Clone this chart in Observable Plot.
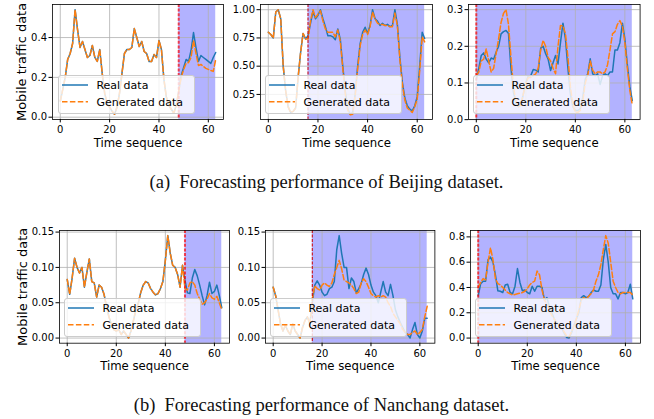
<!DOCTYPE html>
<html><head><meta charset="utf-8">
<script src="https://cdn.jsdelivr.net/npm/d3@7"></script>
<script src="https://cdn.jsdelivr.net/npm/@observablehq/plot@0.6"></script>
<style>
body{margin:0;background:#fff}
#fig{position:relative;width:654px;height:419px;overflow:hidden;background:#fff}
.panel{position:absolute}
.legend{position:absolute;background:rgba(255,255,255,0.8);border:1px solid #cccccc;border-radius:3px;box-sizing:border-box}
.caption{position:absolute;font-family:"Liberation Serif";font-size:18.5px;line-height:1;white-space:pre;transform:translate(-50%,-50%);color:#111}
</style></head><body><div id="fig"></div>
<script>
// ---- data ----
const xTicks = [0, 20, 40, 60];
const xTickLabels = ["0", "20", "40", "60"];

const bj1Real = [0.08,0.14,0.20,0.29,0.32,0.37,0.54,0.44,0.35,0.38,0.34,0.30,0.31,0.36,0.30,0.28,0.34,0.22,0.12,0.07,0.05,0.03,0.015,0.05,0.12,0.22,0.32,0.34,0.34,0.35,0.445,0.40,0.355,0.38,0.33,0.32,0.28,0.28,0.315,0.30,0.385,0.34,0.19,0.10,0.06,0.04,0.02,0.06,0.13,0.21,0.25,0.29,0.28,0.335,0.425,0.35,0.28,0.31,0.30,0.29,0.28,0.27,0.30,0.325];
const bj1Gen  = [0.08,0.14,0.20,0.29,0.32,0.37,0.54,0.44,0.35,0.38,0.34,0.30,0.31,0.36,0.30,0.28,0.34,0.22,0.12,0.07,0.05,0.03,0.015,0.05,0.12,0.22,0.32,0.34,0.34,0.35,0.445,0.40,0.355,0.38,0.33,0.32,0.28,0.28,0.315,0.30,0.385,0.34,0.19,0.10,0.06,0.04,0.02,0.06,0.13,0.20,0.24,0.27,0.275,0.30,0.385,0.32,0.26,0.265,0.255,0.245,0.24,0.235,0.23,0.29];
const bj2Real = [0.80,0.78,0.75,0.98,1.00,0.92,0.50,0.28,0.14,0.09,0.10,0.13,0.40,0.62,0.79,0.74,0.77,0.88,0.985,0.92,0.95,1.00,0.92,0.85,0.77,0.77,0.76,0.735,0.83,0.74,0.50,0.28,0.12,0.075,0.09,0.25,0.50,0.70,0.80,0.845,0.79,0.86,1.00,0.92,0.90,0.86,0.88,0.86,0.87,0.85,0.86,1.00,0.87,0.58,0.36,0.22,0.15,0.12,0.105,0.15,0.23,0.50,0.80,0.745];
const bj2Gen  = [0.80,0.78,0.75,0.98,1.00,0.92,0.50,0.28,0.14,0.09,0.10,0.13,0.40,0.62,0.79,0.74,0.74,0.90,1.00,0.93,0.96,0.99,0.90,0.83,0.80,0.80,0.80,0.76,0.82,0.72,0.48,0.26,0.11,0.07,0.075,0.24,0.48,0.68,0.78,0.82,0.78,0.85,0.98,0.92,0.88,0.87,0.87,0.86,0.86,0.85,0.85,0.97,0.86,0.56,0.34,0.20,0.13,0.11,0.09,0.14,0.21,0.46,0.76,0.715];
const bj3Real = [0.109,0.14,0.175,0.182,0.165,0.155,0.168,0.165,0.184,0.20,0.234,0.24,0.243,0.235,0.14,0.075,0.045,0.035,0.04,0.07,0.10,0.12,0.12,0.137,0.135,0.13,0.195,0.20,0.18,0.165,0.134,0.155,0.175,0.152,0.21,0.263,0.22,0.14,0.07,0.035,0.025,0.025,0.03,0.06,0.11,0.125,0.166,0.125,0.12,0.125,0.096,0.12,0.125,0.12,0.13,0.13,0.19,0.19,0.21,0.263,0.22,0.15,0.09,0.052];
const bj3Gen  = [0.12,0.13,0.16,0.165,0.193,0.16,0.13,0.14,0.18,0.22,0.265,0.29,0.30,0.26,0.17,0.09,0.05,0.035,0.04,0.07,0.10,0.115,0.115,0.12,0.125,0.14,0.19,0.216,0.20,0.17,0.16,0.14,0.125,0.20,0.257,0.255,0.235,0.17,0.09,0.04,0.02,0.02,0.025,0.05,0.10,0.12,0.16,0.135,0.125,0.13,0.13,0.125,0.13,0.15,0.19,0.234,0.24,0.26,0.27,0.255,0.21,0.14,0.08,0.04];
const nc1Real = [0.083,0.062,0.085,0.113,0.10,0.092,0.10,0.072,0.093,0.112,0.08,0.078,0.058,0.075,0.072,0.062,0.045,0.03,0.02,0.012,0.01,0.012,0.005,0.01,0.005,0.0,0.01,0.025,0.04,0.05,0.065,0.075,0.08,0.078,0.07,0.065,0.061,0.063,0.07,0.08,0.11,0.145,0.12,0.103,0.10,0.09,0.072,0.103,0.082,0.064,0.063,0.085,0.097,0.088,0.075,0.06,0.047,0.06,0.079,0.063,0.066,0.075,0.06,0.043];
const nc1Gen  = [0.083,0.062,0.085,0.113,0.10,0.092,0.10,0.072,0.093,0.112,0.08,0.078,0.058,0.075,0.072,0.062,0.045,0.03,0.02,0.012,0.01,0.012,0.005,0.01,0.005,0.0,0.01,0.025,0.04,0.05,0.065,0.075,0.08,0.078,0.07,0.065,0.061,0.063,0.07,0.08,0.11,0.145,0.12,0.103,0.10,0.09,0.072,0.103,0.07,0.068,0.078,0.08,0.075,0.063,0.055,0.048,0.05,0.055,0.063,0.057,0.055,0.059,0.05,0.04];
const nc2Real = [0.072,0.06,0.04,0.02,0.01,0.018,0.01,0.005,0.02,0.01,0.005,0.0,0.015,0.025,0.03,0.02,0.05,0.075,0.081,0.075,0.065,0.06,0.062,0.07,0.072,0.08,0.125,0.145,0.12,0.10,0.10,0.07,0.085,0.08,0.064,0.07,0.077,0.09,0.099,0.09,0.075,0.065,0.06,0.05,0.065,0.08,0.065,0.06,0.076,0.06,0.04,0.03,0.022,0.015,0.008,0.005,0.0,0.012,0.022,0.005,0.0,0.01,0.028,0.028];
const nc2Gen  = [0.072,0.06,0.04,0.02,0.01,0.018,0.01,0.005,0.02,0.01,0.005,0.0,0.015,0.025,0.03,0.02,0.055,0.074,0.07,0.068,0.075,0.078,0.075,0.073,0.078,0.09,0.10,0.11,0.098,0.082,0.08,0.078,0.075,0.07,0.063,0.065,0.078,0.084,0.08,0.072,0.063,0.06,0.058,0.06,0.058,0.06,0.058,0.05,0.045,0.035,0.03,0.025,0.02,0.012,0.008,0.005,0.005,0.008,0.01,0.005,0.008,0.012,0.03,0.045];
const nc3Real = [0.335,0.43,0.45,0.45,0.62,0.64,0.60,0.50,0.374,0.37,0.36,0.42,0.426,0.36,0.35,0.41,0.55,0.44,0.374,0.38,0.36,0.35,0.41,0.37,0.41,0.41,0.40,0.30,0.32,0.25,0.20,0.15,0.12,0.10,0.08,0.04,0.005,0.0,0.04,0.10,0.15,0.20,0.32,0.335,0.32,0.33,0.36,0.38,0.37,0.37,0.42,0.62,0.74,0.60,0.40,0.35,0.35,0.31,0.36,0.36,0.35,0.36,0.426,0.31];
const nc3Gen  = [0.40,0.44,0.47,0.46,0.60,0.714,0.62,0.47,0.43,0.42,0.40,0.38,0.36,0.35,0.34,0.345,0.35,0.355,0.36,0.37,0.39,0.42,0.44,0.45,0.53,0.50,0.38,0.30,0.27,0.22,0.18,0.15,0.12,0.10,0.08,0.05,0.02,0.01,0.05,0.10,0.15,0.22,0.30,0.32,0.31,0.33,0.35,0.38,0.45,0.50,0.58,0.70,0.81,0.75,0.60,0.45,0.40,0.36,0.35,0.36,0.36,0.36,0.36,0.34];

const bj1YTicks = [0, 0.2, 0.4],            bj1YLabels = ["0.0", "0.2", "0.4"];
const bj2YTicks = [0.25, 0.5, 0.75, 1.0],   bj2YLabels = ["0.25", "0.50", "0.75", "1.00"];
const bj3YTicks = [0, 0.1, 0.2, 0.3],       bj3YLabels = ["0.0", "0.1", "0.2", "0.3"];
const nc1YTicks = [0, 0.05, 0.1, 0.15],     nc1YLabels = ["0.00", "0.05", "0.10", "0.15"];
const nc2YTicks = [0, 0.05, 0.1, 0.15],     nc2YLabels = ["0.00", "0.05", "0.10", "0.15"];
const nc3YTicks = [0, 0.2, 0.4, 0.6, 0.8],  nc3YLabels = ["0.0", "0.2", "0.4", "0.6", "0.8"];

const splits = {bj1: 48, bj2: 16, bj3: 0, nc1: 48, nc2: 16, nc3: 0};
const seriesNames = ["Real data", "Generated data"];
const xLabel = "Time sequence";
const yLabel = "Mobile traffic data";
const captions = ["(a)  Forecasting performance of Beijing dataset.", "(b)  Forecasting performance of Nanchang dataset."];

// ---- layout / styles ----
const ML = 48, MR = 6, MT = 6, MB = 42;
const thickRule = {stroke: "red", strokeOpacity: 0.7, strokeWidth: 2, strokeDasharray: "3,1.6"};
const thinRule = {stroke: "#d00000", strokeOpacity: 1, strokeWidth: 1, strokeDasharray: "3,1.5"};
const panels = [
  {real: bj1Real, gen: bj1Gen, split: splits.bj1, yt: bj1YTicks, yl: bj1YLabels, yd: [-0.011, 0.566], fl: 52.2, ft: 4.3, fw: 171, fh: 114.9, ylab: -30.5, rule: thickRule},
  {real: bj2Real, gen: bj2Gen, split: splits.bj2, yt: bj2YTicks, yl: bj2YLabels, yd: [0.029, 1.046], fl: 259.9, ft: 4.3, fw: 172, fh: 114.9, rule: thinRule},
  {real: bj3Real, gen: bj3Gen, split: splits.bj3, yt: bj3YTicks, yl: bj3YLabels, yd: [0.0007, 0.314], fl: 467.9, ft: 4.3, fw: 171.6, fh: 114.9, rule: thickRule},
  {real: nc1Real, gen: nc1Gen, split: splits.nc1, yt: nc1YTicks, yl: nc1YLabels, yd: [-0.00725, 0.15225], fl: 58.5, ft: 229.8, fw: 170, fh: 112.7, ylab: -36.8, rule: thickRule},
  {real: nc2Real, gen: nc2Gen, split: splits.nc2, yt: nc2YTicks, yl: nc2YLabels, yd: [-0.00725, 0.15225], fl: 264.6, ft: 229.8, fw: 169.4, fh: 112.7, rule: thinRule},
  {real: nc3Real, gen: nc3Gen, split: splits.nc3, yt: nc3YTicks, yl: nc3YLabels, yd: [-0.0405, 0.8505], fl: 469.8, ft: 229.8, fw: 170, fh: 112.7, rule: thickRule}
];

const fig = document.getElementById("fig");
const BLUE = "#1f77b4", ORANGE = "#ff7f0e";

for (const p of panels) {
  const real = p.real.map((v, i) => ({t: i, v}));
  const gen = p.gen.map((v, i) => ({t: i, v}));
  const lastT = p.real.length - 1;
  const marks = [
    Plot.rect([{a: p.split, b: lastT}], {x1: "a", x2: "b", fill: "blue", fillOpacity: 0.3}),
    Plot.gridX(xTicks, {stroke: "#b0b0b0", strokeOpacity: 1, strokeWidth: 0.8}),
    Plot.gridY(p.yt, {stroke: "#b0b0b0", strokeOpacity: 1, strokeWidth: 0.8}),
    Plot.line(real, {x: "t", y: "v", stroke: BLUE, strokeWidth: 1.5}),
    Plot.line(gen, {x: "t", y: "v", stroke: ORANGE, strokeWidth: 1.5, strokeDasharray: "5.5,2.4"}),
    Plot.ruleX([p.split], p.rule),
    Plot.frame({stroke: "#000", strokeWidth: 0.8}),
    Plot.axisX(xTicks, {tickSize: 3.5, tickPadding: 3, tickFormat: d => xTickLabels[xTicks.indexOf(d)], fontSize: 10, label: null}),
    Plot.axisY(p.yt, {tickSize: 3.5, tickPadding: 2, tickFormat: d => p.yl[p.yt.indexOf(d)], fontSize: 10, label: null}),
    Plot.text([xLabel], {frameAnchor: "bottom", lineAnchor: "middle", textAnchor: "middle", dy: 23.5, fontSize: 11.7, fill: "#000"})
  ];
  if (p.ylab !== undefined) marks.push(Plot.text([yLabel], {frameAnchor: "left", lineAnchor: "middle", textAnchor: "middle", dx: p.ylab, rotate: -90, fontSize: 13, fill: "#000"}));
  const svg = Plot.plot({
    width: p.fw + ML + MR, height: p.fh + MT + MB,
    marginLeft: ML, marginRight: MR, marginTop: MT, marginBottom: MB,
    x: {domain: [-3.15, 66.15]},
    y: {domain: p.yd},
    style: {fontFamily: "DejaVu Sans", fontSize: "10px", background: "transparent", overflow: "visible", color: "#000"},
    marks
  });
  const wrap = document.createElement("div");
  wrap.className = "panel";
  wrap.style.left = (p.fl - ML) + "px";
  wrap.style.top = (p.ft - MT) + "px";
  wrap.appendChild(svg);
  fig.appendChild(wrap);

  // legend (lower left, inside axes)
  const lw = 137, lh = 39;
  const lg = document.createElement("div");
  lg.className = "legend";
  lg.style.left = (p.fl + 5.5) + "px";
  lg.style.top = (p.ft + p.fh - 5.5 - lh) + "px";
  lg.style.width = lw + "px";
  lg.style.height = lh + "px";
  lg.innerHTML = `<svg width="${lw}" height="${lh}" style="position:absolute;left:-1px;top:-1px;overflow:visible" font-family="DejaVu Sans" font-size="11">
    <line x1="4" x2="30" y1="10" y2="10" stroke="${BLUE}" stroke-width="1.5"/>
    <line x1="4" x2="30" y1="26.7" y2="26.7" stroke="${ORANGE}" stroke-width="1.5" stroke-dasharray="5.5,2.4"/>
    <text x="38.4" y="10" dy="0.35em" fill="#000">${seriesNames[0]}</text>
    <text x="38.4" y="26.7" dy="0.35em" fill="#000">${seriesNames[1]}</text></svg>`;
  fig.appendChild(lg);
}

const capPos = [[326.5, 181.7], [321.5, 405]];
captions.forEach((c, i) => {
  const d = document.createElement("div");
  d.className = "caption";
  d.textContent = c;
  d.style.left = capPos[i][0] + "px";
  d.style.top = capPos[i][1] + "px";
  fig.appendChild(d);
});
</script></body></html>
